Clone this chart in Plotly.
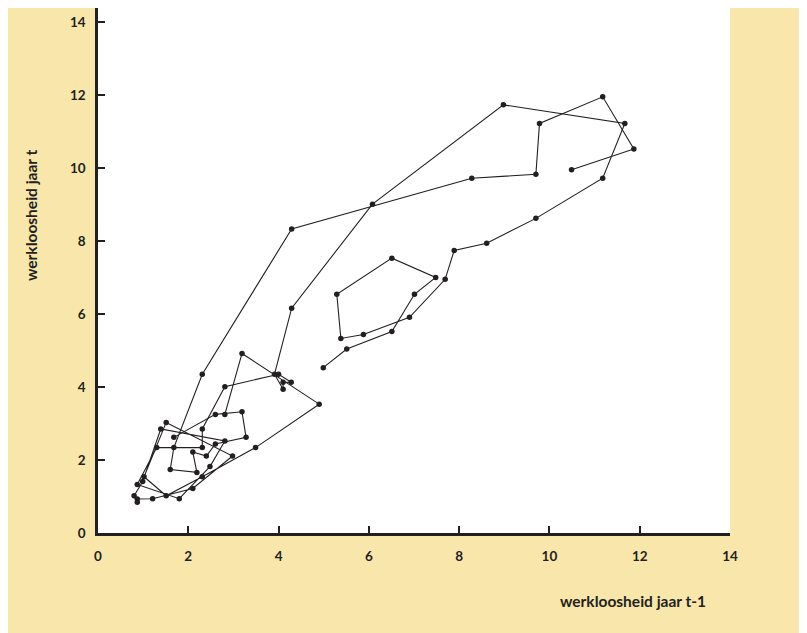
import plotly.graph_objects as go

# Werkloosheid: jaar t-1 (x) tegen jaar t (y), twee doorlopende reeksen
reeks_a_x = [1.68, 2.60, 3.19, 3.28, 2.60, 2.40, 2.10, 2.19, 1.60, 1.68, 2.31,
             4.29, 8.28, 9.70, 9.78, 11.18, 11.87, 10.49]
reeks_a_y = [2.62, 3.25, 3.32, 2.62, 2.44, 2.11, 2.22, 1.66, 1.74, 2.34, 4.35,
             8.33, 9.72, 9.83, 11.22, 11.95, 10.52, 9.95]

reeks_b_x = [2.81, 3.19, 4.90, 3.49, 2.31, 1.51, 1.02, 1.51, 2.98, 2.10, 1.21,
             0.87, 0.87, 0.80, 0.99, 1.39, 2.81, 2.48, 1.80, 0.87, 1.30, 2.31,
             2.31, 2.81, 4.00, 4.28, 4.10, 4.10, 3.91, 4.29, 6.08, 8.98, 11.67,
             11.18, 9.70, 8.61, 7.89, 7.69, 6.90, 5.88, 5.38, 5.29, 6.51, 7.48,
             7.01, 6.51, 5.51, 4.99]
reeks_b_y = [3.25, 4.92, 3.53, 2.34, 1.54, 1.02, 1.54, 3.03, 2.11, 1.22, 0.94,
             0.93, 0.84, 1.02, 1.41, 2.85, 2.52, 1.82, 0.94, 1.33, 2.34, 2.34,
             2.85, 4.01, 4.35, 4.13, 4.13, 3.94, 4.35, 6.16, 9.01, 11.73, 11.22,
             9.72, 8.62, 7.94, 7.74, 6.95, 5.91, 5.44, 5.33, 6.54, 7.53, 7.00,
             6.54, 5.52, 5.04, 4.53]

tick_waarden = [0, 2, 4, 6, 8, 10, 12, 14]
x_titel = "werkloosheid jaar t-1"
y_titel = "werkloosheid jaar t"

DARK = "#231f20"
YELLOW = "#F9E6AB"
FONT = "Lato"

# figure size accounting for the 8px page margin of the html body
W, H = 799, 625
L, R, T, B = 90, 77, 0, 100
PW, PH = W - L - R, H - T - B

fig = go.Figure()
for xs, ys in [(reeks_a_x, reeks_a_y), (reeks_b_x, reeks_b_y)]:
    fig.add_trace(go.Scatter(
        x=xs, y=ys, mode="lines+markers",
        line=dict(color=DARK, width=1.1),
        marker=dict(color=DARK, size=5.5),
        showlegend=False, hoverinfo="skip"))

axis_common = dict(
    tickvals=tick_waarden, ticktext=[str(v) for v in tick_waarden],
    ticks="inside", ticklen=7, tickwidth=2, tickcolor=DARK,
    showline=True, linewidth=2.5, linecolor=DARK,
    showgrid=False, zeroline=False,
    tickfont=dict(family=FONT, size=13.5, color=DARK, weight="bold"),
    fixedrange=True,
)

fig.update_layout(
    width=W, height=H,
    margin=dict(l=L, r=R, t=T, b=B, pad=0),
    paper_bgcolor="white",
    plot_bgcolor="white",
    xaxis=dict(range=[0, 14], ticklabelstandoff=9, **axis_common),
    yaxis=dict(range=[0, 14 * PH / 511], ticklabelstandoff=7, **axis_common),
    shapes=[
        dict(type="rect", xref="paper", yref="paper",
             x0=(0 - L) / PW, x1=(794 - L) / PW,
             y0=-B / PH, y1=1.0,
             fillcolor=YELLOW, line=dict(width=0), layer="below"),
        dict(type="rect", xref="paper", yref="paper",
             x0=0, x1=1, y0=0, y1=1,
             fillcolor="white", line=dict(width=0), layer="below"),
    ],
    annotations=[
        dict(text="<b>" + y_titel + "</b>", xref="paper", yref="paper",
             x=(23 - L) / PW, y=(PH - 207) / PH, textangle=-90,
             xanchor="center", yanchor="middle", showarrow=False,
             font=dict(family=FONT, size=15.5, color=DARK)),
        dict(text="<b>" + x_titel + "</b>", xref="paper", yref="paper",
             x=(700 - L) / PW, y=(PH - 593) / PH,
             xanchor="right", yanchor="middle", showarrow=False,
             font=dict(family=FONT, size=15.5, color=DARK)),
    ],
)

fig.write_html("out.html")
